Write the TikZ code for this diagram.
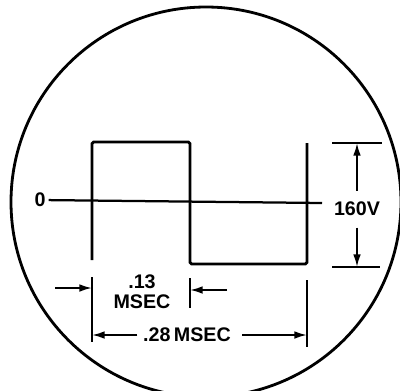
\documentclass[tikz,border=0pt]{standalone}
\usepackage{fontspec}
\setsansfont{Liberation Sans}
\usepackage{tikz}
\usetikzlibrary{arrows.meta,positioning,calc}

\begin{document}
\begin{tikzpicture}[
			x=0.025cm,y=-0.025cm,
			pantalla/.style={line width=2pt},
			onda/.style={line width=2pt,rounded corners=1.2pt},
			cota/.style={line width=1.4pt},
			flecha/.style={cota,-{Latex[length=9pt,width=5.5pt]}},
			etiq/.style={inner sep=2pt,align=center,font=\fontsize{14}{14.5}\selectfont\sffamily\bfseries}
			]
			\clip (0,0) rectangle (400,390);
			\draw[pantalla] (206,202) circle [radius=195];
			\node[etiq] (cero) at (40,200) {0};
			\coordinate (ejefin) at (322,203);
			\draw[line width=1.6pt] (cero) -- (ejefin);
			\coordinate (w0) at (92,260); \coordinate (w1) at (92,142);
			\coordinate (w2) at (190,142); \coordinate (w3) at (190,264);
			\coordinate (w4) at (307,264); \coordinate (w5) at (307,143);
			\draw[onda] (w0) -- (w1) -- (w2) -- (w3) -- (w4) -- (w5);
			\coordinate (e1a) at (92,277); \coordinate (e1b) at (92,342);
			\coordinate (e2a) at (190,278); \coordinate (e2b) at (190,308);
			\coordinate (e3a) at (307,280); \coordinate (e3b) at (307,347);
			\draw[cota] (e1a) -- (e1b); \draw[cota] (e2a) -- (e2b); \draw[cota] (e3a) -- (e3b);
			\node[etiq] (t13) at (142,292) {.13\\MSEC};
			\coordinate (f1) at (55,288); \coordinate (f2) at (227,290);
			\draw[flecha] (f1) -- (e1a |- f1);
			\draw[flecha] (f2) -- (e2a |- f2);
			\node[etiq,inner xsep=4pt] (t28) at (187,335) {.28\,MSEC};
			\draw[flecha] (t28.west) -- (e1a |- t28.west);
			\draw[flecha] ([xshift=4pt]t28.east) -- (e3a |- t28.east);
			\coordinate (va) at (332,143); \coordinate (vb) at (382,143);
			\coordinate (vc) at (332,267); \coordinate (vd) at (380,267);
			\draw[cota] (va) -- (vb); \draw[cota] (vc) -- (vd);
			\node[etiq,inner ysep=8pt] (v) at (357,209) {160V};
			\draw[flecha] (v.north) -- (v.north |- va);
			\draw[flecha] (v.south) -- (v.south |- vc);
		\end{tikzpicture}
\end{document}
